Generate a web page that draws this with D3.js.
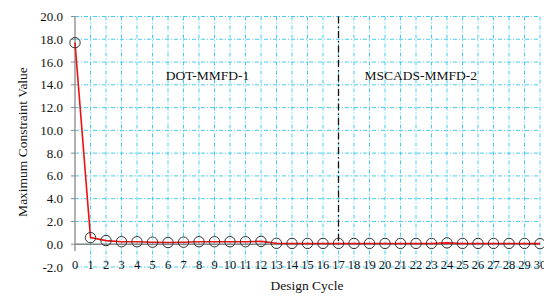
<!DOCTYPE html>
<html>
<head>
<meta charset="utf-8">
<script src="https://cdn.jsdelivr.net/npm/d3@7"></script>
<style>
  body { margin: 0; background: #fff; }
  text { font-family: "Liberation Serif", serif; fill: #111; }
</style>
</head>
<body>
<div id="chart"></div>
<script>
// design cycle vs max constraint value
var cycles = d3.range(0, 31);
var values = [17.7, 0.58, 0.32, 0.22, 0.22, 0.18, 0.15, 0.18, 0.22, 0.22,
              0.22, 0.22, 0.25, 0.08, 0.07, 0.07, 0.07, 0.07, 0.07, 0.07,
              0.07, 0.07, 0.07, 0.07, 0.12, 0.07, 0.07, 0.07, 0.07, 0.07, 0.05];
var yTicks = d3.range(-2, 20.1, 2);
var phaseLabels = ["DOT-MMFD-1", "MSCADS-MMFD-2"];
var splitCycle = 17;

var width = 544, height = 296;
var svg = d3.select('#chart').append('svg')
  .attr('width', width).attr('height', height);

var x = d3.scaleLinear().domain([0, 30]).range([75, 540]);
var y = d3.scaleLinear().domain([-2, 20]).range([267, 16.5]);

var gridColor = '#45cdf3';

// grid
svg.append('g').selectAll('line').data(yTicks).enter().append('line')
  .attr('x1', x(0)).attr('x2', x(30))
  .attr('y1', function(d){ return y(d) }).attr('y2', function(d){ return y(d) })
  .attr('stroke', gridColor).attr('stroke-width', 1)
  .style('stroke-dasharray', '4,2,1,2');

svg.append('g').selectAll('line').data(cycles.slice(1)).enter().append('line')
  .attr('x1', function(d){ return x(d) }).attr('x2', function(d){ return x(d) })
  .attr('y1', y(20)).attr('y2', y(-2))
  .attr('stroke', gridColor).attr('stroke-width', 1)
  .style('stroke-dasharray', '4,2,1,2');

// axes lines
svg.append('line').attr('x1', x(0)).attr('x2', x(30)).attr('y1', y(0)).attr('y2', y(0))
  .attr('stroke', '#888').attr('stroke-width', 1.3);
svg.append('line').attr('x1', x(0)).attr('x2', x(0)).attr('y1', y(20)).attr('y2', y(-0.6))
  .attr('stroke', '#888').attr('stroke-width', 1.3);
svg.append('g').selectAll('line').data(yTicks.filter(function(d){ return d >= 0 })).enter().append('line')
  .attr('x1', x(0) - 4).attr('x2', x(0))
  .attr('y1', function(d){ return y(d) }).attr('y2', function(d){ return y(d) })
  .attr('stroke', '#888');

// phase divider
svg.append('line').attr('x1', x(splitCycle)).attr('x2', x(splitCycle))
  .attr('y1', y(20)).attr('y2', y(0))
  .attr('stroke', '#111').attr('stroke-width', 1.3)
  .style('stroke-dasharray', '7,3,1.5,3');

// tick labels
svg.append('g').selectAll('text').data(yTicks).enter().append('text')
  .attr('x', 63).attr('y', function(d){ return y(d) })
  .attr('dy', '0.35em').attr('text-anchor', 'end')
  .style('font-size', '13px')
  .text(function(d){ return d.toFixed(1) });

svg.append('g').selectAll('text').data(cycles).enter().append('text')
  .attr('x', function(d){ return x(d) }).attr('y', 268.5)
  .attr('text-anchor', 'middle')
  .style('font-size', '12.5px')
  .text(function(d){ return d });

// data
var line = d3.line().x(function(d, i){ return x(cycles[i]) }).y(function(d){ return y(d) });
svg.append('path').datum(values).attr('d', line)
  .attr('fill', 'none').attr('stroke', '#ee1111').attr('stroke-width', 1.6);

svg.append('g').selectAll('circle').data(values).enter().append('circle')
  .attr('cx', function(d, i){ return x(cycles[i]) }).attr('cy', function(d){ return y(d) })
  .attr('r', 5.2).attr('fill', 'none').attr('stroke', '#333').attr('stroke-width', 1);

// annotations
svg.append('text').attr('x', x(8.55)).attr('y', y(14.4)).attr('text-anchor', 'middle')
  .style('font-size', '13.5px').text(phaseLabels[0]);
svg.append('text').attr('x', x(22.3)).attr('y', y(14.4)).attr('text-anchor', 'middle')
  .style('font-size', '13.5px').text(phaseLabels[1]);

// axis titles
svg.append('text').attr('x', 307).attr('y', 290).attr('text-anchor', 'middle')
  .style('font-size', '13.5px').text('Design Cycle');
svg.append('text').attr('transform', 'translate(27,142) rotate(-90)')
  .attr('text-anchor', 'middle').style('font-size', '13.5px')
  .text('Maximum Constraint Value');
</script>
</body>
</html>
